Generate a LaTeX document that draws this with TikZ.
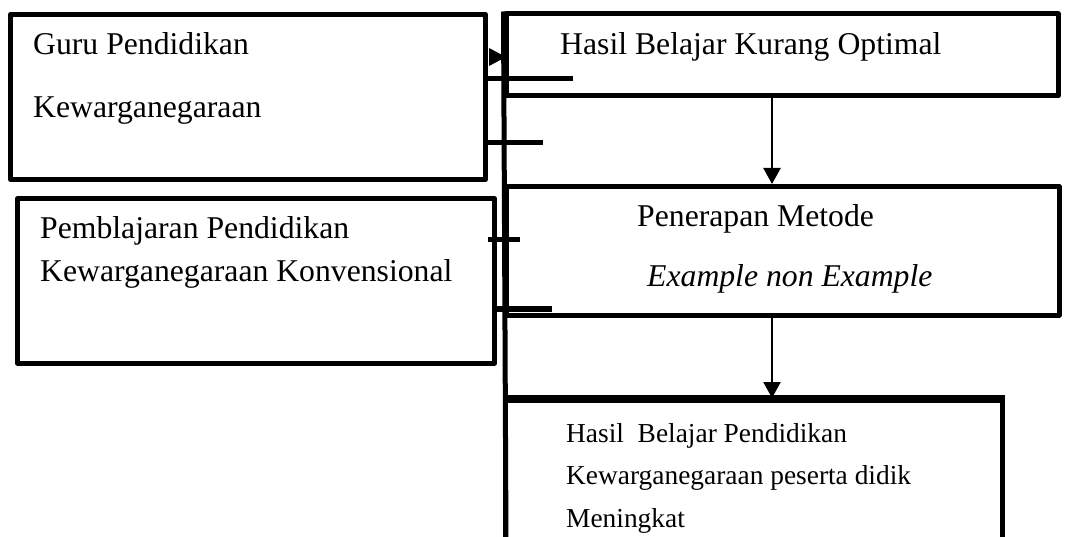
\documentclass[tikz,border=0pt]{standalone}
\usepackage{fontspec}
\setmainfont{Liberation Serif}
\usetikzlibrary{arrows.meta}
\begin{document}
\begin{tikzpicture}[x=1pt,y=-1pt,
  box/.style={draw, line width=5pt, line join=round, rectangle, inner sep=0pt},
  lbl/.style={anchor=base west, inner sep=0pt, font=\fontsize{31.7}{38}\selectfont},
  lblsm/.style={anchor=base west, inner sep=0pt, font=\fontsize{27.4}{33}\selectfont},
  stub/.style={line width=5pt},
  flow/.style={line width=2.5pt, -{Triangle[length=16pt,width=17pt]}}]
\useasboundingbox (0,0) rectangle (1081,537);
\clip (0,0) rectangle (1081,537);
\fill[white] (0,0) rectangle (1081,537);
% boxes
\node[box, minimum width=475pt, minimum height=165pt] (guru) at (248,97) {};
\node[box, minimum width=477pt, minimum height=164.5pt] (konv) at (256,280.75) {};
\node[box, minimum width=552pt, minimum height=82pt] (hasil) at (782,55) {};
\node[box, minimum width=553pt, minimum height=128.5pt] (metode) at (782.5,250.75) {};
\node[box, minimum width=497pt, minimum height=169.5pt] (naik) at (753.5,485.25) {};
\draw[line width=7pt] (naik.north west) -- (naik.north east);
% spine
\coordinate (spineend) at (506,545);
\draw[stub] (hasil.north west) -- (spineend);
% stubs
\draw[stub] (487,79) -- (573,79);
\draw[stub] (483,143) -- (543,143);
\draw[stub] (488,240) -- (520,240);
\draw[line width=6.5pt] (497,309) -- (552,309);
% small arrow head between guru and spine
\coordinate (tri) at (489,57);
\fill (489,48) -- (506,57) -- (489,66) -- cycle;
% arrows
\coordinate (ax) at (772,0);
\draw[flow] (ax |- hasil.south) -- (ax |- metode.north);
\draw[flow] (ax |- metode.south) -- (ax |- naik.north);
% texts
\node[lbl] (t1) at (33,55) {Guru Pendidikan};
\node[lbl] (t2) at (33,118) {Kewarganegaraan};
\node[lbl] (t3) at (40,239) {Pemblajaran Pendidikan};
\node[lbl] (t4) at (40,281) {Kewarganegaraan Konvensional};
\node[lbl] (t5) at (560,55) {Hasil Belajar Kurang Optimal};
\node[lbl] (t6) at (637,227) {Penerapan Metode};
\node[lbl] (t7) at (647,287) {\itshape Example non Example};
\node[lblsm] (t8) at (566,442) {Hasil\ \ Belajar Pendidikan};
\node[lblsm] (t9) at (566,484) {Kewarganegaraan peserta didik};
\node[lblsm] (t10) at (566,527) {Meningkat};
\end{tikzpicture}
\end{document}
